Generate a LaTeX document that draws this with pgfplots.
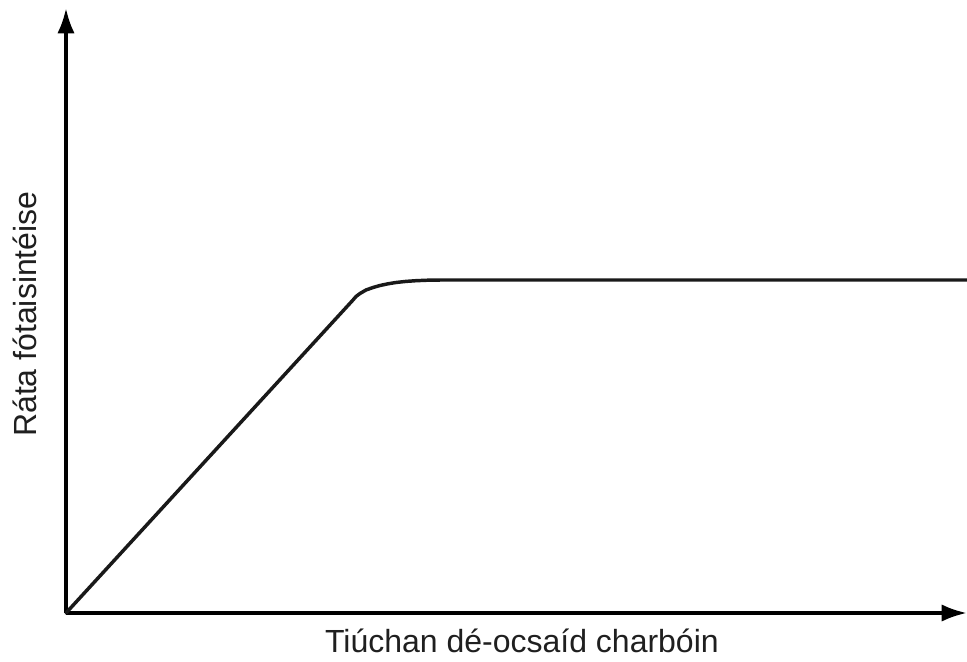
\documentclass[border=0pt]{standalone}
\usepackage{pgfplots}
\pgfplotsset{compat=1.18}
\usepackage{fontspec}
\setmainfont{Liberation Sans}
\usetikzlibrary{arrows.meta}
\begin{document}
\begin{tikzpicture}[x=0.75pt,y=0.75pt]
\begin{axis}[
  scale only axis,
  width=675.75pt, height=453.75pt,
  xmin=0, xmax=901, ymin=0, ymax=605,
  axis lines=left,
  axis line style={line width=2.8pt, -{Latex[length=19pt,width=13pt]}},
  ticks=none,
  clip=false,
  xlabel={Tiúchan dé-ocsaíd charbóin},
  ylabel={Ráta fótaisintéise},
  label style={font=\fontsize{24}{28}\selectfont, text=black!88},
  xlabel style={at={(axis description cs:0.506,-0.066)}, anchor=base},
  ylabel style={at={(axis description cs:-0.0322,0.494)}, anchor=base},
]
\addplot[line width=2.6pt, black!90, line join=round, line cap=round] coordinates {
  (0,0) (287,313) (290,316.5) (294,319.5) (300,323) (307,325.5) (314,327.5)
  (322,329.2) (330,330.5) (340,331.6) (350,332.3) (362,332.8) (375,333) (901,333)
};
\coordinate (bl) at (axis cs:-66,-48);
\coordinate (tr) at (axis cs:901,613);
\end{axis}
\pgfresetboundingbox
\path (bl) rectangle (tr);
\end{tikzpicture}
\end{document}
